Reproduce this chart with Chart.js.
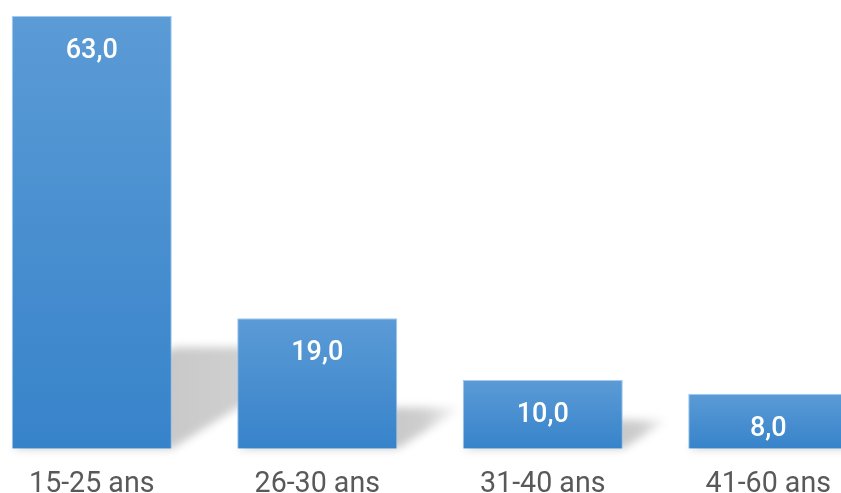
<!DOCTYPE html>
<html>
<head>
<meta charset="utf-8">
<style>
  html, body { margin: 0; padding: 0; background: #fff; overflow: hidden; width: 841px; height: 493px; }
  #myChart { position: absolute; left: -21px; top: 0; }
</style>
<script src="https://cdn.jsdelivr.net/npm/chart.js@4"></script>
</head>
<body>
<canvas id="myChart" width="902" height="521"></canvas>
<script>
var categories = ['15-25 ans', '26-30 ans', '31-40 ans', '41-60 ans'];
var values = [63.0, 19.0, 10.0, 8.0];

function barGradient(context) {
  var chart = context.chart;
  var y = chart.scales.y;
  if (!y || y.top == null) return '#4a8fd0';
  var top = y.getPixelForValue(values[context.dataIndex]);
  var base = y.getPixelForValue(0);
  var g = chart.ctx.createLinearGradient(0, top, 0, base);
  g.addColorStop(0, '#5b9bd6');
  g.addColorStop(1, '#3783ca');
  return g;
}

// floor shadow cast to the upper right of each bar
var shadowPlugin = {
  id: 'shadows',
  beforeDatasetsDraw: function(chart) {
    var ctx = chart.ctx;
    var meta = chart.getDatasetMeta(0);
    meta.data.forEach(function(bar) {
      var x0 = bar.x - bar.width / 2, x1 = bar.x + bar.width / 2;
      var B = bar.base, h = bar.base - bar.y;
      var dy = 0.2 * h + 15, dx = 1.6 * dy;
      ctx.save();
      ctx.filter = 'blur(4px)';
      var g = ctx.createLinearGradient(x1, 0, x1 + dx, 0);
      g.addColorStop(0, 'rgba(0,0,0,0.21)');
      g.addColorStop(0.4, 'rgba(0,0,0,0.19)');
      g.addColorStop(1, 'rgba(0,0,0,0.0)');
      ctx.fillStyle = g;
      ctx.beginPath();
      ctx.moveTo(x0, B);
      ctx.lineTo(x1, B);
      ctx.lineTo(x1 + dx, B - dy);
      ctx.lineTo(x0 + dx, B - dy);
      ctx.closePath();
      ctx.fill();
      ctx.restore();
    });
  }
};

var valueLabels = {
  id: 'valueLabels',
  afterDatasetsDraw: function(chart) {
    var ctx = chart.ctx;
    var meta = chart.getDatasetMeta(0);
    ctx.save();
    ctx.fillStyle = '#ffffff';
    ctx.font = '500 27px Roboto';
    ctx.textAlign = 'center';
    ctx.textBaseline = 'alphabetic';
    meta.data.forEach(function(bar, i) {
      ctx.fillText(values[i].toFixed(1).replace('.', ','), bar.x, bar.y + 42);
    });
    ctx.restore();
  }
};

var ctx = document.getElementById('myChart');

var myChart = new Chart(ctx, {
  type: 'bar',
  data: {
    labels: categories,
    datasets: [{
      data: values,
      backgroundColor: barGradient,
      borderColor: 'rgba(140,190,235,0.8)',
      borderWidth: 1,
      categoryPercentage: 1,
      barPercentage: 0.71
    }]
  },
  options: {
    responsive: false,
    animation: false,
    devicePixelRatio: 1,
    layout: { padding: { top: 16, left: 0, right: 0, bottom: 0 } },
    plugins: { legend: { display: false }, tooltip: { enabled: false } },
    scales: {
      x: {
        grid: { display: false, drawTicks: false },
        border: { display: false },
        ticks: { color: '#595959', font: { family: 'Roboto', size: 28.6, lineHeight: 1.2 }, padding: 19 }
      },
      y: { display: false, min: 0, max: 63 }
    }
  },
  plugins: [shadowPlugin, valueLabels]
});
</script>
</body>
</html>
